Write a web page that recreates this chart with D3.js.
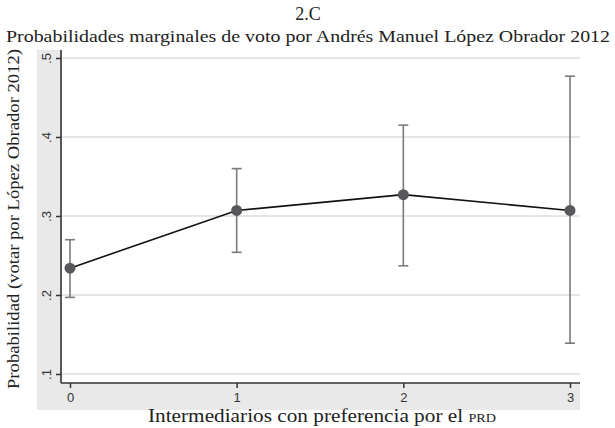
<!DOCTYPE html>
<html>
<head>
<meta charset="utf-8">
<script src="https://cdn.jsdelivr.net/npm/d3@7"></script>
<style>
  html, body { margin: 0; padding: 0; background: #fff; }
  svg { display: block; }
</style>
</head>
<body>
<script>
// Marginal probabilities of voting for AMLO by number of PRD-leaning intermediaries
const categories = [0, 1, 2, 3];
const estimate   = [0.234, 0.307, 0.327, 0.307];
const ciLower    = [0.197, 0.254, 0.237, 0.139];
const ciUpper    = [0.270, 0.360, 0.415, 0.477];
const yTicks     = [0.1, 0.2, 0.3, 0.4, 0.5];
const yTickLabels = [".1", ".2", ".3", ".4", ".5"];
const xTicks     = [0, 1, 2, 3];

const W = 615, H = 428;
const svg = d3.select("body").append("svg").attr("width", W).attr("height", H);

const plot = { left: 61, right: 580, top: 50, bottom: 383 };

const x = d3.scaleLinear().domain([0, 3]).range([70, 570]);
const y = d3.scaleLinear().domain([0.1, 0.5]).range([374, 58]);

const sans = "'Liberation Sans', Arial, sans-serif";
const serif = "'Liberation Serif', 'Times New Roman', serif";

// grey graph region and white plot region
svg.append("rect").attr("x", 37).attr("y", 50).attr("width", plot.right - 37).attr("height", 410 - 50)
  .attr("fill", "#e9e9e9");
svg.append("rect").attr("x", plot.left).attr("y", plot.top)
  .attr("width", plot.right - plot.left).attr("height", plot.bottom - plot.top).attr("fill", "#fff");

// horizontal gridlines
svg.append("g").selectAll("line").data(yTicks).join("line")
  .attr("x1", plot.left).attr("x2", plot.right)
  .attr("y1", d => y(d)).attr("y2", d => y(d))
  .attr("stroke", "#dcdcdc").attr("stroke-width", 1.5);

// y axis
const yAxis = d3.axisLeft(y).tickValues(yTicks).tickFormat((d, i) => yTickLabels[i])
  .tickSize(5).tickSizeOuter(0);
const gy = svg.append("g").attr("transform", `translate(${plot.left},0)`).call(yAxis);
gy.select(".domain").remove();
gy.selectAll(".tick line").attr("stroke", "#333").attr("stroke-width", 1.5);
gy.selectAll(".tick text")
  .attr("transform", "rotate(-90)")
  .attr("x", 0).attr("y", -10)
  .attr("dy", 0)
  .attr("text-anchor", "middle")
  .style("font-family", sans)
  .style("font-size", "13px").attr("fill", "#333");
svg.append("line").attr("x1", plot.left).attr("x2", plot.left)
  .attr("y1", plot.top).attr("y2", plot.bottom)
  .attr("stroke", "#333").attr("stroke-width", 1.6);

// x axis
const xAxis = d3.axisBottom(x).tickValues(xTicks).tickFormat(d3.format("d"))
  .tickSize(5).tickSizeOuter(0);
const gx = svg.append("g").attr("transform", `translate(0,${plot.bottom})`).call(xAxis);
gx.select(".domain").remove();
gx.selectAll(".tick line").attr("stroke", "#333").attr("stroke-width", 1.5);
gx.selectAll(".tick text")
  .attr("y", 10).attr("dy", "0.71em")
  .style("font-family", sans)
  .style("font-size", "13px").attr("fill", "#333");
svg.append("line").attr("x1", plot.left).attr("x2", plot.right)
  .attr("y1", plot.bottom).attr("y2", plot.bottom)
  .attr("stroke", "#333").attr("stroke-width", 1.6);

// confidence intervals
const ci = svg.append("g").attr("stroke", "#7a7a7a").attr("stroke-width", 1.6);
categories.forEach((c, i) => {
  ci.append("line").attr("x1", x(c)).attr("x2", x(c)).attr("y1", y(ciLower[i])).attr("y2", y(ciUpper[i]));
  ci.append("line").attr("x1", x(c) - 5).attr("x2", x(c) + 5).attr("y1", y(ciLower[i])).attr("y2", y(ciLower[i]));
  ci.append("line").attr("x1", x(c) - 5).attr("x2", x(c) + 5).attr("y1", y(ciUpper[i])).attr("y2", y(ciUpper[i]));
});

// estimate line and markers
const pts = categories.map((c, i) => [c, estimate[i]]);
svg.append("path").datum(pts)
  .attr("d", d3.line().x(d => x(d[0])).y(d => y(d[1])))
  .attr("fill", "none").attr("stroke", "#111").attr("stroke-width", 1.6);
svg.append("g").selectAll("circle").data(pts).join("circle")
  .attr("cx", d => x(d[0])).attr("cy", d => y(d[1])).attr("r", 5.5)
  .attr("fill", "#58585c");

// titles
svg.append("text").attr("x", 308).attr("y", 20).attr("text-anchor", "middle")
  .style("font-family", serif).style("font-size", "18px").attr("fill", "#222").text("2.C");
svg.append("text").attr("x", 308).attr("y", 42).attr("text-anchor", "middle")
  .style("font-family", serif).style("font-size", "17px").attr("fill", "#222")
  .attr("textLength", 604).attr("lengthAdjust", "spacingAndGlyphs")
  .text("Probabilidades marginales de voto por Andrés Manuel López Obrador 2012");
svg.append("text").attr("transform", "translate(19,219) rotate(-90)").attr("text-anchor", "middle")
  .style("font-family", serif).style("font-size", "17px").attr("fill", "#222")
  .attr("textLength", 340).attr("lengthAdjust", "spacingAndGlyphs")
  .text("Probabilidad (votar por López Obrador 2012)");
const xt = svg.append("text").attr("x", 322).attr("y", 422).attr("text-anchor", "middle")
  .style("font-family", serif).style("font-size", "18px").attr("fill", "#222")
  .attr("textLength", 348).attr("lengthAdjust", "spacingAndGlyphs");
xt.append("tspan").text("Intermediarios con preferencia por el ");
xt.append("tspan").style("font-size", "12px").text("PRD");
</script>
</body>
</html>
